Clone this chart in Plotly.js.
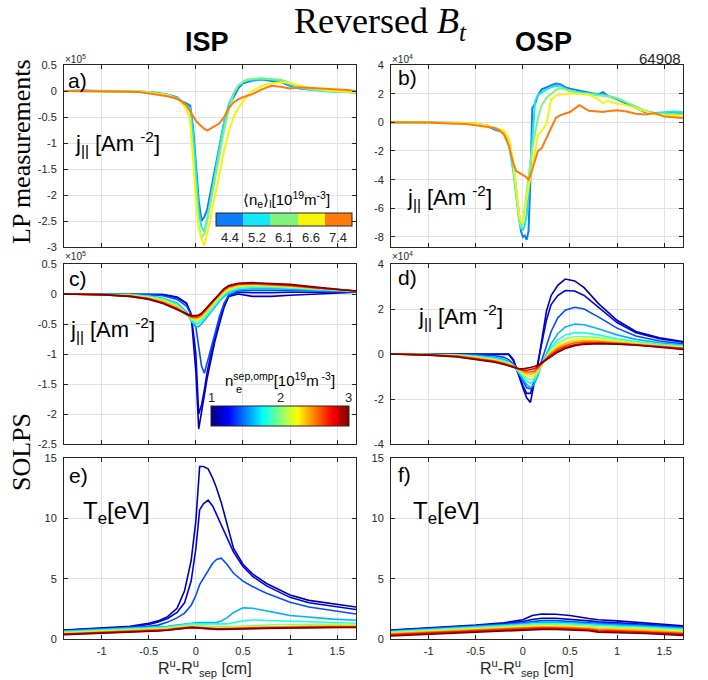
<!DOCTYPE html>
<html><head><meta charset="utf-8">
<script src="https://cdn.plot.ly/plotly-3.0.1.min.js"></script>
<style>html,body{margin:0;padding:0;background:#fff;}#chart{width:708px;height:680px;}</style>
</head><body><div id="chart"></div>
<script>
// ---------------- DATA ----------------
const xTickVals = [-1, -0.5, 0, 0.5, 1, 1.5];
const xTickText = ['-1', '-0.5', '0', '0.5', '1', '1.5'];
const yTickA = [0.5, 0, -0.5, -1, -1.5, -2, -2.5, -3];
const yTickAText = ['0.5', '0', '-0.5', '-1', '-1.5', '-2', '-2.5', '-3'];
const yTickB = [4, 2, 0, -2, -4, -6, -8];
const yTickBText = ['4', '2', '0', '-2', '-4', '-6', '-8'];
const yTickC = [0.5, 0, -0.5, -1, -1.5, -2, -2.5];
const yTickCText = ['0.5', '0', '-0.5', '-1', '-1.5', '-2', '-2.5'];
const yTickD = [4, 2, 0, -2, -4];
const yTickDText = ['4', '2', '0', '-2', '-4'];
const yTickE = [0, 5, 10, 15];
const yTickEText = ['0', '5', '10', '15'];

// LP measurements: line-averaged density labels
const lpDensity = ['4.4', '5.2', '6.1', '6.6', '7.4'];
const lpColors = ['#0F7DF5', '#14E8F8', '#80F27E', '#F5F50A', '#FF7A0A'];

// a) ISP LP j|| (x1e5)
const xLpIsp = [-1.4,-1.2,-1.0,-0.8,-0.6,-0.5,-0.4,-0.3,-0.2,-0.15,-0.1,-0.06,-0.03,0,0.03,0.06,0.09,0.12,0.15,0.2,0.25,0.3,0.35,0.4,0.45,0.5,0.55,0.6,0.7,0.8,0.9,1.0,1.1,1.2,1.3,1.4,1.5,1.6,1.7];
const jIsp44 = [0,0.01,0,-0.01,-0.01,-0.02,-0.04,-0.07,-0.12,-0.2,-0.24,-0.28,-0.7,-1.4,-2.1,-2.5,-2.42,-2.28,-2.0,-1.55,-1.05,-0.6,-0.28,-0.1,0.05,0.15,0.18,0.2,0.22,0.2,0.17,0.1,0.05,0.03,0.02,0.0,-0.01,-0.02,-0.03];
const jIsp52 = [0,0,0,-0.01,-0.01,-0.02,-0.04,-0.07,-0.13,-0.2,-0.26,-0.33,-0.8,-1.6,-2.3,-2.62,-2.7,-2.45,-2.15,-1.65,-1.1,-0.6,-0.25,-0.05,0.1,0.17,0.2,0.22,0.22,0.23,0.2,0.12,0.06,0.03,0.01,-0.01,-0.02,-0.03,-0.03];
const jIsp61 = [0,0,0,-0.01,-0.01,-0.03,-0.05,-0.08,-0.15,-0.22,-0.35,-0.55,-1.2,-2.0,-2.6,-2.82,-2.75,-2.5,-2.2,-1.75,-1.25,-0.75,-0.35,-0.05,0.1,0.18,0.22,0.23,0.25,0.22,0.22,0.15,0.07,0.04,0.02,0,-0.01,-0.02,-0.03];
const jIsp66 = [0,0,0,-0.01,-0.01,-0.03,-0.05,-0.08,-0.15,-0.22,-0.35,-0.55,-1.3,-2.1,-2.65,-2.85,-2.97,-2.75,-2.5,-2.05,-1.6,-1.15,-0.78,-0.5,-0.33,-0.2,-0.08,0,0.1,0.15,0.17,0.16,0.1,0.06,0.03,0.01,0,-0.01,-0.02];
const jIsp74 = [0,0,0,-0.01,-0.02,-0.05,-0.07,-0.1,-0.15,-0.2,-0.28,-0.4,-0.5,-0.57,-0.63,-0.68,-0.73,-0.76,-0.73,-0.68,-0.62,-0.5,-0.33,-0.22,-0.16,-0.12,-0.09,-0.06,0.03,0.1,0.08,0.05,0.07,0.06,0.06,0.05,0.04,0.02,0];

// b) OSP LP j|| (x1e4)
const xLpOsp = [-1.4,-1.2,-1.0,-0.8,-0.6,-0.5,-0.4,-0.3,-0.25,-0.2,-0.15,-0.1,-0.07,-0.04,-0.02,0,0.02,0.04,0.06,0.08,0.1,0.13,0.16,0.2,0.25,0.3,0.35,0.4,0.45,0.5,0.6,0.7,0.8,0.85,0.9,1.0,1.1,1.2,1.3,1.4,1.5,1.6,1.7];
const jOsp44 = [0,0,0,-0.02,-0.05,-0.1,-0.2,-0.5,-0.6,-0.7,-1.3,-3.0,-4.8,-6.5,-7.6,-8.0,-7.9,-8.2,-7.6,-4.0,1.0,1.3,1.9,2.3,2.45,2.55,2.7,2.65,2.45,2.35,2.2,2.1,1.95,2.1,1.85,1.6,1.3,1.0,0.7,0.6,0.62,0.7,0.6];
const jOsp52 = [0,0,0,-0.02,-0.05,-0.1,-0.2,-0.4,-0.55,-0.7,-1.5,-3.5,-5.2,-6.8,-7.4,-7.5,-7.2,-6.5,-5.0,-3.0,-1.0,1.5,1.9,2.1,2.3,2.45,2.55,2.5,2.35,2.2,2.1,2.05,1.95,1.9,1.85,1.65,1.35,1.1,0.8,0.65,0.7,0.75,0.7];
const jOsp61 = [0,0,0,-0.02,-0.05,-0.1,-0.2,-0.4,-0.5,-0.6,-1.2,-3.0,-5.0,-6.8,-7.3,-7.0,-6.0,-4.8,-3.8,-2.8,-1.8,-0.8,0.3,1.2,1.7,2.0,2.25,2.4,2.3,2.2,2.0,1.95,1.9,1.85,1.8,1.7,1.4,1.1,0.8,0.6,0.6,0.6,0.55];
const jOsp66 = [0,0,0,-0.02,-0.05,-0.1,-0.2,-0.4,-0.5,-0.6,-1.1,-2.8,-4.6,-6.4,-6.9,-7.0,-6.2,-5.2,-4.5,-3.8,-3.0,-1.8,-0.9,-0.6,-0.1,1.6,1.85,1.95,2.0,2.0,2.0,1.95,1.6,1.35,1.5,1.3,1.2,1.0,0.75,0.55,0.5,0.5,0.45];
const jOsp74 = [0,0,-0.02,-0.08,-0.12,-0.2,-0.3,-0.4,-0.55,-0.85,-1.6,-2.9,-3.4,-3.5,-3.6,-3.65,-3.75,-3.85,-4.0,-3.7,-3.3,-2.6,-2.0,-1.8,-1.1,-0.5,0.3,0.5,0.62,0.72,1.2,0.8,0.75,0.72,0.78,0.85,0.75,0.6,0.55,0.65,0.4,0.35,0.3];

// SOLPS: separatrix density scan (1e19 m^-3)
const neSep = [1.1, 1.2, 1.4, 1.6, 1.8, 2.0, 2.2, 2.4, 2.6, 2.8, 3.0];
const solpsColors = ['#0000B3','#0000E6','#004DFF','#00B3FF','#1AFFE6','#80FF80','#E6FF1A','#FFB300','#FF4D00','#E60000','#800000'];

// c) ISP SOLPS j|| (x1e5)
const xSolIspJ = [-1.4,-1.0,-0.7,-0.5,-0.35,-0.2,-0.1,-0.05,0.0,0.03,0.06,0.09,0.12,0.16,0.2,0.25,0.3,0.35,0.45,0.6,0.8,1.0,1.3,1.7];
const jSolIsp = [
 [0,0,0,0,-0.01,-0.05,-0.15,-0.35,-1.3,-2.25,-1.95,-1.7,-1.4,-1.1,-0.8,-0.5,-0.22,-0.04,0,-0.04,-0.04,-0.02,0,0.03],
 [0,0,0,0,-0.01,-0.06,-0.16,-0.33,-1.0,-2.0,-1.85,-1.6,-1.3,-1.0,-0.72,-0.42,-0.17,-0.02,0.03,0.02,0.02,0.03,0.03,0.04],
 [0,0,0,-0.01,-0.03,-0.09,-0.2,-0.35,-0.55,-0.9,-1.2,-1.32,-1.15,-0.9,-0.65,-0.38,-0.15,-0.02,0.05,0.06,0.06,0.06,0.05,0.04],
 [0,0,-0.01,-0.03,-0.07,-0.15,-0.3,-0.45,-0.55,-0.54,-0.5,-0.44,-0.38,-0.3,-0.22,-0.12,-0.04,0.02,0.07,0.09,0.09,0.08,0.06,0.04],
 [0,0,-0.01,-0.04,-0.08,-0.17,-0.32,-0.44,-0.5,-0.49,-0.46,-0.41,-0.35,-0.27,-0.19,-0.1,-0.02,0.04,0.09,0.11,0.11,0.1,0.07,0.05],
 [0,-0.01,-0.02,-0.05,-0.1,-0.19,-0.33,-0.42,-0.46,-0.45,-0.42,-0.37,-0.31,-0.24,-0.16,-0.07,0.01,0.06,0.11,0.13,0.13,0.11,0.08,0.05],
 [0,-0.01,-0.02,-0.06,-0.11,-0.21,-0.34,-0.41,-0.43,-0.42,-0.39,-0.34,-0.28,-0.21,-0.13,-0.05,0.03,0.08,0.13,0.15,0.14,0.12,0.09,0.05],
 [0,-0.01,-0.03,-0.07,-0.12,-0.22,-0.34,-0.4,-0.41,-0.4,-0.37,-0.32,-0.26,-0.19,-0.11,-0.03,0.05,0.1,0.15,0.16,0.15,0.13,0.09,0.05],
 [0,-0.01,-0.03,-0.08,-0.14,-0.24,-0.34,-0.38,-0.39,-0.38,-0.35,-0.3,-0.24,-0.17,-0.09,-0.01,0.07,0.12,0.16,0.17,0.16,0.14,0.1,0.05],
 [0,-0.01,-0.04,-0.08,-0.15,-0.25,-0.34,-0.37,-0.37,-0.36,-0.33,-0.28,-0.22,-0.15,-0.08,0,0.08,0.13,0.17,0.18,0.17,0.15,0.1,0.05],
 [0,-0.01,-0.04,-0.09,-0.16,-0.26,-0.34,-0.36,-0.36,-0.35,-0.32,-0.27,-0.21,-0.14,-0.07,0.01,0.09,0.14,0.18,0.19,0.18,0.16,0.11,0.05]
];

// d) OSP SOLPS j|| (x1e4)
const xSolOspJ = [-1.4,-1.0,-0.7,-0.5,-0.3,-0.2,-0.15,-0.1,-0.05,0.0,0.04,0.08,0.12,0.16,0.2,0.25,0.3,0.37,0.45,0.55,0.65,0.8,1.0,1.2,1.45,1.7];
const jSolOsp = [
 [0,0,0,0,0.01,0.03,0,-0.25,-0.9,-1.5,-1.95,-2.15,-1.3,-0.45,0.6,1.9,2.6,3.05,3.33,3.25,2.95,2.25,1.5,1.0,0.72,0.55],
 [0,0,0,0,0,0.01,-0.02,-0.3,-0.9,-1.4,-1.75,-1.75,-1.2,-0.4,0.5,1.5,2.2,2.6,2.82,2.8,2.6,2.1,1.4,0.95,0.68,0.52],
 [0,0,-0.01,-0.03,-0.08,-0.15,-0.25,-0.45,-0.8,-1.2,-1.5,-1.55,-1.3,-0.8,-0.3,0.4,1.0,1.6,1.95,2.08,2.0,1.65,1.15,0.8,0.58,0.45],
 [0,-0.01,-0.03,-0.07,-0.15,-0.25,-0.33,-0.5,-0.8,-1.1,-1.35,-1.5,-1.35,-0.95,-0.45,0,0.45,0.9,1.2,1.33,1.3,1.12,0.85,0.65,0.5,0.4],
 [0,-0.01,-0.04,-0.1,-0.2,-0.3,-0.38,-0.52,-0.75,-1.0,-1.2,-1.3,-1.2,-0.85,-0.45,-0.08,0.3,0.62,0.85,0.95,0.94,0.85,0.68,0.55,0.43,0.36],
 [0,-0.02,-0.06,-0.13,-0.24,-0.34,-0.41,-0.53,-0.72,-0.92,-1.08,-1.15,-1.07,-0.8,-0.45,-0.12,0.2,0.48,0.68,0.77,0.78,0.73,0.6,0.5,0.4,0.33],
 [0,-0.02,-0.07,-0.15,-0.27,-0.37,-0.44,-0.54,-0.7,-0.85,-0.97,-1.0,-0.95,-0.74,-0.45,-0.15,0.12,0.38,0.56,0.65,0.68,0.65,0.56,0.47,0.37,0.3],
 [0,-0.03,-0.08,-0.17,-0.29,-0.39,-0.46,-0.55,-0.68,-0.8,-0.88,-0.9,-0.85,-0.68,-0.44,-0.17,0.06,0.3,0.47,0.57,0.6,0.59,0.52,0.44,0.35,0.27],
 [0,-0.03,-0.09,-0.19,-0.32,-0.42,-0.48,-0.56,-0.66,-0.75,-0.8,-0.8,-0.77,-0.63,-0.43,-0.19,0.01,0.22,0.38,0.49,0.53,0.53,0.48,0.42,0.33,0.25],
 [0,-0.04,-0.11,-0.21,-0.34,-0.44,-0.5,-0.57,-0.65,-0.71,-0.72,-0.7,-0.66,-0.55,-0.42,-0.22,-0.05,0.14,0.3,0.41,0.46,0.48,0.45,0.4,0.32,0.23],
 [0,-0.05,-0.13,-0.24,-0.37,-0.47,-0.53,-0.6,-0.65,-0.66,-0.64,-0.6,-0.56,-0.5,-0.4,-0.25,-0.1,0.08,0.24,0.37,0.43,0.46,0.44,0.4,0.3,0.2]
];

// e) ISP SOLPS Te (eV)
const xSolIspT = [-1.4,-1.0,-0.7,-0.5,-0.4,-0.3,-0.2,-0.12,-0.05,0.0,0.04,0.08,0.13,0.18,0.22,0.27,0.33,0.4,0.5,0.6,0.75,0.9,1.0,1.2,1.45,1.7];
const teSolIsp = [
 [0.75,0.95,1.05,1.3,1.5,1.85,2.55,4.0,6.5,9.8,14.3,14.3,14.1,13.3,12.5,11.3,9.5,7.5,6.2,5.4,4.6,4.0,3.65,3.2,2.9,2.65],
 [0.72,0.9,1.0,1.2,1.4,1.7,2.2,3.0,4.8,7.5,10.7,11.2,11.5,11.0,10.3,9.5,8.3,7.2,6.0,5.2,4.4,3.8,3.45,3.0,2.7,2.45],
 [0.65,0.82,0.92,1.05,1.15,1.4,1.75,2.15,2.8,3.6,4.5,5.0,5.6,6.3,6.6,6.7,6.2,5.45,4.8,4.35,3.8,3.35,3.05,2.65,2.35,2.07],
 [0.65,0.8,0.88,0.95,1.0,1.05,1.15,1.25,1.32,1.35,1.36,1.36,1.35,1.35,1.38,1.5,1.75,2.2,2.58,2.55,2.35,2.1,1.95,1.8,1.65,1.55],
 [0.6,0.75,0.82,0.9,0.95,1.0,1.1,1.2,1.25,1.25,1.25,1.24,1.23,1.22,1.22,1.22,1.25,1.35,1.5,1.58,1.55,1.48,1.45,1.4,1.35,1.3],
 [0.55,0.7,0.76,0.83,0.88,0.93,1.02,1.1,1.13,1.12,1.1,1.08,1.05,1.03,1.02,1.02,1.03,1.05,1.1,1.15,1.18,1.2,1.2,1.22,1.22,1.22],
 [0.5,0.64,0.7,0.77,0.82,0.87,0.96,1.04,1.06,1.05,1.02,0.99,0.96,0.94,0.93,0.93,0.94,0.95,0.98,1.02,1.05,1.08,1.1,1.12,1.13,1.13],
 [0.46,0.58,0.65,0.72,0.77,0.82,0.92,1.0,1.02,1.0,0.97,0.94,0.91,0.89,0.88,0.88,0.88,0.9,0.93,0.96,0.99,1.02,1.04,1.06,1.07,1.07],
 [0.42,0.54,0.61,0.68,0.73,0.78,0.88,0.97,0.99,0.97,0.94,0.91,0.88,0.86,0.85,0.85,0.85,0.86,0.89,0.92,0.95,0.97,0.99,1.01,1.02,1.02],
 [0.39,0.5,0.57,0.64,0.69,0.75,0.85,0.94,0.96,0.94,0.91,0.88,0.85,0.83,0.82,0.82,0.82,0.83,0.85,0.88,0.91,0.93,0.95,0.97,0.98,0.98],
 [0.36,0.46,0.53,0.6,0.66,0.72,0.82,0.92,0.94,0.92,0.89,0.86,0.83,0.81,0.8,0.8,0.8,0.81,0.83,0.85,0.88,0.9,0.92,0.94,0.95,0.95]
];

// f) OSP SOLPS Te (eV)
const xSolOspT = [-1.4,-1.0,-0.5,-0.2,0.0,0.1,0.2,0.35,0.5,0.7,0.8,1.0,1.3,1.7];
const teSolOsp = [
 [0.75,0.92,1.15,1.35,1.6,1.95,2.07,2.05,1.95,1.7,1.6,1.5,1.32,1.1],
 [0.72,0.88,1.1,1.28,1.45,1.62,1.72,1.72,1.65,1.5,1.42,1.35,1.22,1.02],
 [0.68,0.84,1.05,1.22,1.35,1.45,1.52,1.52,1.47,1.35,1.3,1.24,1.13,0.95],
 [0.64,0.8,1.0,1.16,1.26,1.33,1.38,1.38,1.34,1.24,1.2,1.15,1.05,0.88],
 [0.6,0.75,0.95,1.1,1.18,1.24,1.28,1.28,1.25,1.15,1.1,1.06,0.97,0.8],
 [0.55,0.7,0.9,1.04,1.11,1.16,1.19,1.19,1.16,1.06,1.0,0.96,0.88,0.72],
 [0.5,0.65,0.84,0.98,1.04,1.08,1.1,1.1,1.07,0.98,0.92,0.88,0.8,0.64],
 [0.45,0.6,0.78,0.92,0.97,1.0,1.02,1.02,0.99,0.9,0.84,0.8,0.72,0.56],
 [0.38,0.54,0.71,0.85,0.9,0.93,0.94,0.94,0.91,0.82,0.75,0.71,0.63,0.47],
 [0.32,0.47,0.64,0.78,0.82,0.86,0.87,0.86,0.83,0.74,0.66,0.62,0.54,0.38],
 [0.25,0.4,0.56,0.7,0.75,0.79,0.8,0.79,0.76,0.68,0.57,0.53,0.45,0.3]
];

// ---------------- LAYOUT HELPERS ----------------
const W = 708, H = 680;
const SANS = 'Liberation Sans, Arial, Helvetica, sans-serif';
const SERIF = 'Liberation Serif, Times New Roman, serif';
const INK = '#262626';
const px = v => v / W;
const py = v => 1 - v / H;
const colL = [64, 356], colR = [391, 683];
const rows = [[65, 247], [264, 444], [458, 639]];
const xdom = c => [c[0] / W, c[1] / W];
const ydom = r => [1 - r[1] / H, 1 - r[0] / H];

function xAxis(col, anchor, showLabels) {
  return {domain: xdom(col), anchor: anchor, range: [-1.4, 1.7],
    tickvals: xTickVals, ticktext: xTickText, showticklabels: showLabels,
    ticks: 'inside', ticklen: 4, tickcolor: INK, tickwidth: 1,
    showline: true, linecolor: INK, linewidth: 1, mirror: 'ticks',
    showgrid: true, gridcolor: '#E2E2E2', gridwidth: 1, zeroline: false,
    tickfont: {family: SANS, size: 11, color: INK}, ticklabelstandoff: 2, fixedrange: true};
}
function yAxis(row, anchor, range, vals, text) {
  return {domain: ydom(row), anchor: anchor, range: range,
    tickvals: vals, ticktext: text, showticklabels: true,
    ticks: 'inside', ticklen: 4, tickcolor: INK, tickwidth: 1,
    showline: true, linecolor: INK, linewidth: 1, mirror: 'ticks',
    showgrid: true, gridcolor: '#E2E2E2', gridwidth: 1, zeroline: false,
    tickfont: {family: SANS, size: 11, color: INK}, ticklabelstandoff: 4, fixedrange: true};
}

// ---------------- TRACES ----------------
const traces = [];
const lpIsp = [jIsp44, jIsp52, jIsp61, jIsp66, jIsp74];
const lpOsp = [jOsp44, jOsp52, jOsp61, jOsp66, jOsp74];
lpDensity.forEach((d, i) => {
  traces.push({x: xLpIsp, y: lpIsp[i], xaxis: 'x', yaxis: 'y', type: 'scatter', mode: 'lines',
    line: {color: lpColors[i], width: 2}, name: d, showlegend: false, hoverinfo: 'skip'});
  traces.push({x: xLpOsp, y: lpOsp[i], xaxis: 'x2', yaxis: 'y2', type: 'scatter', mode: 'lines',
    line: {color: lpColors[i], width: 2}, name: d, showlegend: false, hoverinfo: 'skip'});
});
neSep.forEach((n, i) => {
  const base = {type: 'scatter', mode: 'lines', line: {color: solpsColors[i], width: 1.6}, showlegend: false, hoverinfo: 'skip', name: String(n)};
  traces.push(Object.assign({}, base, {x: xSolIspJ, y: jSolIsp[i], xaxis: 'x3', yaxis: 'y3'}));
  traces.push(Object.assign({}, base, {x: xSolOspJ, y: jSolOsp[i], xaxis: 'x4', yaxis: 'y4'}));
  traces.push(Object.assign({}, base, {x: xSolIspT, y: teSolIsp[i], xaxis: 'x5', yaxis: 'y5'}));
  traces.push(Object.assign({}, base, {x: xSolOspT, y: teSolOsp[i], xaxis: 'x6', yaxis: 'y6'}));
});

// colorbars (dummy traces carrying the scales)
const nLp = lpColors.length;
const discreteScale = [];
lpColors.forEach((c, i) => { discreteScale.push([i / nLp, c]); discreteScale.push([(i + 1) / nLp, c]); });
traces.push({type: 'scatter', mode: 'markers', x: [null, null], y: [null, null], xaxis: 'x', yaxis: 'y',
  showlegend: false, hoverinfo: 'skip',
  marker: {color: [0, nLp], cmin: 0, cmax: nLp, colorscale: discreteScale, showscale: true,
    colorbar: {orientation: 'h', x: px(284), xanchor: 'center', y: py(213), yanchor: 'top',
      len: 136, lenmode: 'pixels', thickness: 13, thicknessmode: 'pixels',
      outlinewidth: 1, outlinecolor: INK, showticklabels: false, ticks: '', xpad: 0, ypad: 0}}});
const jetScale = [[0, 'rgb(0,0,128)'], [0.125, 'rgb(0,0,255)'], [0.375, 'rgb(0,255,255)'], [0.625, 'rgb(255,255,0)'], [0.875, 'rgb(255,0,0)'], [1, 'rgb(128,0,0)']];
traces.push({type: 'scatter', mode: 'markers', x: [null, null], y: [null, null], xaxis: 'x3', yaxis: 'y3',
  showlegend: false, hoverinfo: 'skip',
  marker: {color: [1, 3], cmin: 1, cmax: 3, colorscale: jetScale, showscale: true,
    colorbar: {orientation: 'h', x: px(280), xanchor: 'center', y: py(406), yanchor: 'top',
      len: 138, lenmode: 'pixels', thickness: 20, thicknessmode: 'pixels',
      outlinewidth: 1, outlinecolor: INK, showticklabels: false, ticks: '', xpad: 0, ypad: 0}}});

// ---------------- ANNOTATIONS ----------------
function ann(text, x, y, o) {
  o = o || {};
  return {text: text, x: px(x), y: py(y), xref: 'paper', yref: 'paper', showarrow: false,
    xanchor: o.xa || 'left', yanchor: o.ya || 'middle', textangle: o.angle || 0,
    font: {family: o.family || SANS, size: o.size || 14, color: o.color || '#000'}};
}
const jText = 'j<sub>||</sub> [Am <sup>-2</sup>]';
const teText = 'T<sub>e</sub>[eV]';
const xLab = 'R<sup>u</sup>-R<sup>u</sup><sub>sep</sub> [cm]';
const annotations = [
  ann('Reversed <i>B<sub>t</sub></i>', 380, 24, {xa: 'center', family: SERIF, size: 36}),
  ann('<b>ISP</b>', 207, 42, {xa: 'center', size: 27}),
  ann('<b>OSP</b>', 543, 42, {xa: 'center', size: 27}),
  ann('64908', 683, 58, {xa: 'right', size: 15, color: INK}),
  ann('LP measurements', 21, 152, {xa: 'center', angle: -90, family: SERIF, size: 26}),
  ann('SOLPS', 21, 452, {xa: 'center', angle: -90, family: SERIF, size: 26}),
  ann('a)', 66, 80, {size: 21}), ann('b)', 396, 77, {size: 21}),
  ann('c)', 67, 278, {size: 21}), ann('d)', 396, 277, {size: 21}),
  ann('e)', 67, 475, {size: 21}), ann('f)', 396, 474, {size: 21}),
  ann(jText, 73, 143, {size: 22}), ann(jText, 405, 197, {size: 22}),
  ann(jText, 68, 329, {size: 22}), ann(jText, 416, 316, {size: 22}),
  ann(teText, 81, 512, {size: 24}), ann(teText, 411, 512, {size: 24}),
  ann('×10<sup>5</sup>', 63, 59, {size: 10, color: INK}), ann('×10<sup>4</sup>', 390, 59, {size: 10, color: INK}),
  ann('×10<sup>5</sup>', 63, 256, {size: 10, color: INK}), ann('×10<sup>4</sup>', 390, 256, {size: 10, color: INK}),
  ann('⟨n<sub>e</sub>⟩<sub>l</sub>[10<sup>19</sup>m<sup>-3</sup>]', 286, 199, {xa: 'center', size: 15}),
  ann('n<sup>sep,omp</sup>[10<sup>19</sup>m<sup> -3</sup>]', 280, 379, {xa: 'center', size: 15}),
  ann('e', 234, 389, {xa: 'left', size: 11}),
  ann('1', 211, 397, {xa: 'center', size: 13, color: INK}),
  ann('2', 280, 397, {xa: 'center', size: 13, color: INK}),
  ann('3', 348, 397, {xa: 'center', size: 13, color: INK}),
  ann(xLab, 205, 681, {xa: 'center', ya: 'bottom', size: 16, color: INK}),
  ann(xLab, 527, 681, {xa: 'center', ya: 'bottom', size: 16, color: INK})
];
lpDensity.forEach((d, i) => {
  annotations.push(ann(d, 216 + (i + 0.5) * 136 / nLp, 238, {xa: 'center', size: 13, color: INK}));
});

const layout = {
  width: W, height: H, margin: {l: 0, r: 0, t: 0, b: 0},
  paper_bgcolor: '#fff', plot_bgcolor: '#fff', showlegend: false,
  font: {family: SANS},
  xaxis: xAxis(colL, 'y', false), yaxis: yAxis(rows[0], 'x', [-3, 0.5], yTickA, yTickAText),
  xaxis2: xAxis(colR, 'y2', false), yaxis2: yAxis(rows[0], 'x2', [-8.7, 4], yTickB, yTickBText),
  xaxis3: xAxis(colL, 'y3', false), yaxis3: yAxis(rows[1], 'x3', [-2.5, 0.5], yTickC, yTickCText),
  xaxis4: xAxis(colR, 'y4', false), yaxis4: yAxis(rows[1], 'x4', [-4, 4], yTickD, yTickDText),
  xaxis5: xAxis(colL, 'y5', true), yaxis5: yAxis(rows[2], 'x5', [0, 15], yTickE, yTickEText),
  xaxis6: xAxis(colR, 'y6', true), yaxis6: yAxis(rows[2], 'x6', [0, 15], yTickE, yTickEText),
  annotations: annotations
};
Plotly.newPlot('chart', traces, layout, {staticPlot: true, displayModeBar: false});
</script></body></html>
